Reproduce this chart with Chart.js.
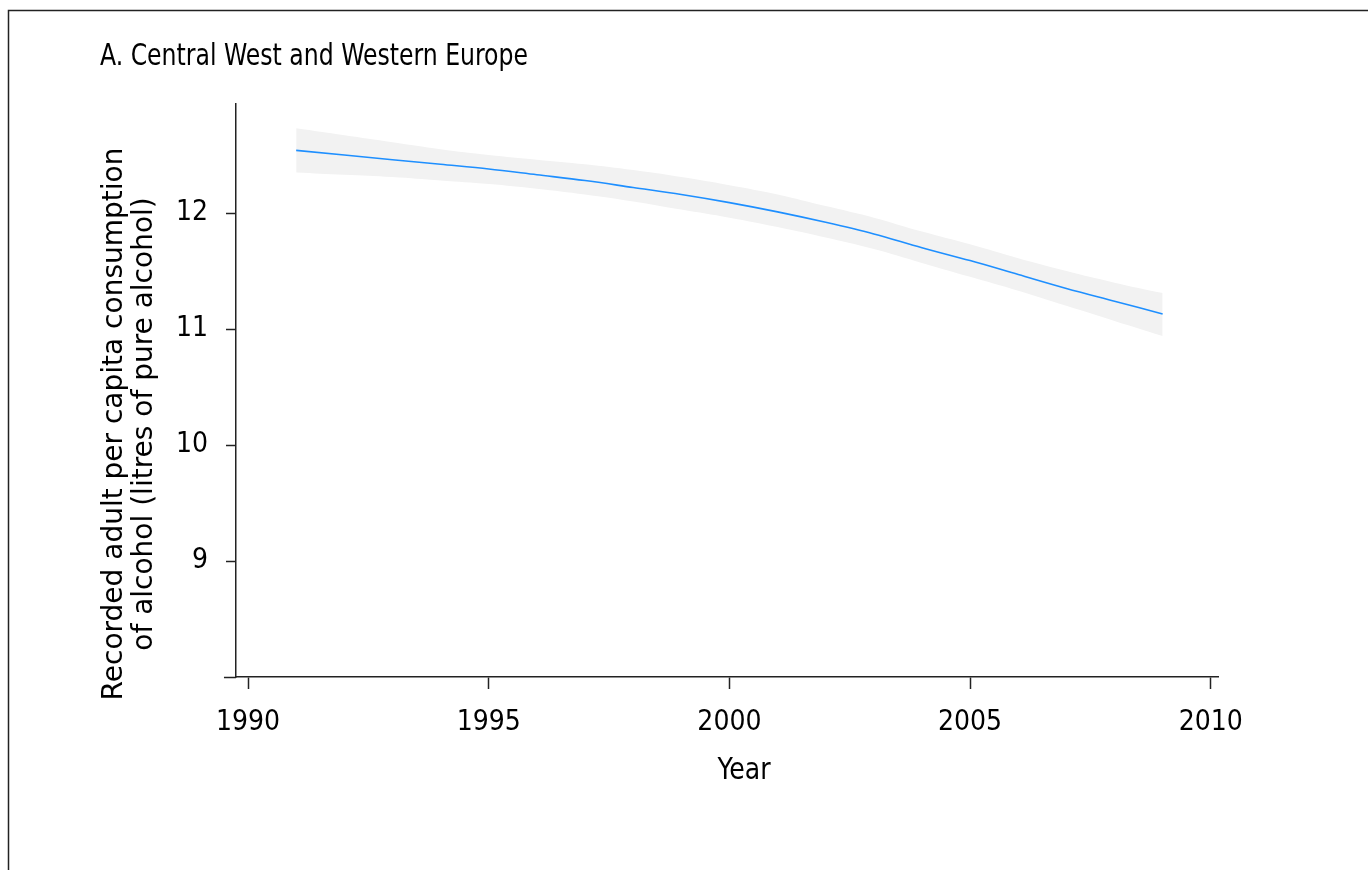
<!DOCTYPE html>
<html><head><meta charset="utf-8">
<script src="https://cdn.jsdelivr.net/npm/chart.js@4.4.1/dist/chart.umd.min.js"></script>
<style>html,body{margin:0;padding:0;background:#fff;overflow:hidden}canvas{display:block}</style>
</head><body>
<canvas id="c" width="1368" height="870"></canvas>
<script>
const years   = [1991,1992,1993,1994,1995,1996,1997,1998,1999,2000,2001,2002,2003,2004,2005,2006,2007,2008,2009];
const fitted  = [12.54,12.50,12.46,12.42,12.38,12.33,12.28,12.22,12.16,12.09,12.01,11.92,11.82,11.70,11.59,11.47,11.35,11.24,11.13];
const upperCI = [12.73,12.67,12.61,12.55,12.50,12.46,12.42,12.37,12.31,12.24,12.16,12.06,11.96,11.84,11.73,11.61,11.50,11.40,11.31];
const lowerCI = [12.35,12.33,12.31,12.28,12.25,12.21,12.16,12.10,12.03,11.96,11.88,11.79,11.69,11.57,11.45,11.33,11.20,11.07,10.94];
const xTicks  = [1990,1995,2000,2005,2010];
const yTicks  = [9,10,11,12];
const titleText = 'A. Central West and Western Europe';
const yTitle  = ['Recorded adult per capita consumption','of alcohol (litres of pure alcohol)'];
const xTitle  = 'Year';

const NARROW = '"DejaVu Sans Condensed", "Liberation Sans Narrow", sans-serif';
const WIDE = '"DejaVu Sans", Verdana, sans-serif';
const AX = '#222';

const pts = arr => years.map((yr, i) => ({x: yr, y: arr[i]}));

function squeezedText(ctx, text, x, y, sx, align) {
  ctx.save();
  ctx.translate(x, y);
  ctx.scale(sx, 1);
  ctx.textAlign = align;
  ctx.fillText(text, 0, 0);
  ctx.restore();
}

const decor = {
  id: 'decor',
  beforeDraw(chart) {
    const ctx = chart.ctx;
    ctx.save();
    ctx.strokeStyle = AX; ctx.lineWidth = 1.5;
    ctx.beginPath(); ctx.moveTo(8.5, 900); ctx.lineTo(8.5, 10.5); ctx.lineTo(1368, 10.5); ctx.stroke();
    ctx.restore();
  },
  afterDraw(chart) {
    const {ctx, chartArea, scales: {x}} = chart;
    ctx.save();
    ctx.strokeStyle = AX; ctx.lineWidth = 1.5;
    ctx.beginPath();
    ctx.moveTo(x.getPixelForValue(1989.5), chartArea.bottom + 0.5);
    ctx.lineTo(chartArea.left, chartArea.bottom + 0.5);
    ctx.stroke();
    ctx.fillStyle = '#000';
    ctx.textBaseline = 'middle';
    ctx.font = '30px ' + NARROW;
    const tw = ctx.measureText(titleText).width;
    squeezedText(ctx, titleText, 100, 57, 428 / tw, 'left');
    const yw = ctx.measureText(xTitle).width;
    squeezedText(ctx, xTitle, 744, 771, 53 / yw, 'center');
    ctx.font = '28px ' + WIDE;
    ctx.textAlign = 'center';
    yTitle.forEach((t, i) => {
      ctx.save();
      ctx.translate(115 + i * 30, 424);
      ctx.rotate(-Math.PI / 2);
      ctx.fillText(t, 0, 0);
      ctx.restore();
    });
    ctx.restore();
  }
};

new Chart(document.getElementById('c'), {
  type: 'line',
  data: {
    datasets: [
      {label: 'Fitted', data: pts(fitted), borderColor: '#1e8fff', borderWidth: 1.6, pointRadius: 0, fill: false, cubicInterpolationMode: 'monotone', order: 0},
      {label: 'Upper', data: pts(upperCI), borderWidth: 0, borderColor: 'rgba(0,0,0,0)', backgroundColor: '#f2f2f2', pointRadius: 0, fill: '+1', tension: 0.4, order: 1},
      {label: 'Lower', data: pts(lowerCI), borderWidth: 0, borderColor: 'rgba(0,0,0,0)', pointRadius: 0, fill: false, tension: 0.4, order: 2}
    ]
  },
  options: {
    responsive: false,
    animation: false,
    layout: {padding: {left: 0, top: 104, right: 150, bottom: 0}},
    plugins: {legend: {display: false}, tooltip: {enabled: false}, title: {display: false}},
    scales: {
      x: {
        type: 'linear', min: 1989.75, max: 2010.15,
        afterBuildTicks: s => { s.ticks = xTicks.map(v => ({value: v})); },
        afterFit: s => { s.height = 870 - 677; },
        grid: {display: true, drawOnChartArea: false, drawTicks: true, tickLength: 12, tickWidth: 1.5, tickColor: AX},
        border: {display: true, color: AX, width: 1.5},
        ticks: {font: {family: NARROW, size: 28}, color: '#000', padding: 17, maxRotation: 0, autoSkip: false, callback: v => String(v)}
      },
      y: {
        type: 'linear', min: 8, max: 12.94,
        afterBuildTicks: s => { s.ticks = yTicks.map(v => ({value: v})); },
        afterFit: s => { s.width = 236; },
        grid: {display: true, drawOnChartArea: false, drawTicks: true, tickLength: 10, tickWidth: 1.5, tickColor: AX},
        border: {display: true, color: AX, width: 1.5},
        ticks: {font: {family: NARROW, size: 28}, color: '#000', padding: 18, autoSkip: false, callback: v => String(v)}
      }
    }
  },
  plugins: [decor]
});
</script>
</body></html>
